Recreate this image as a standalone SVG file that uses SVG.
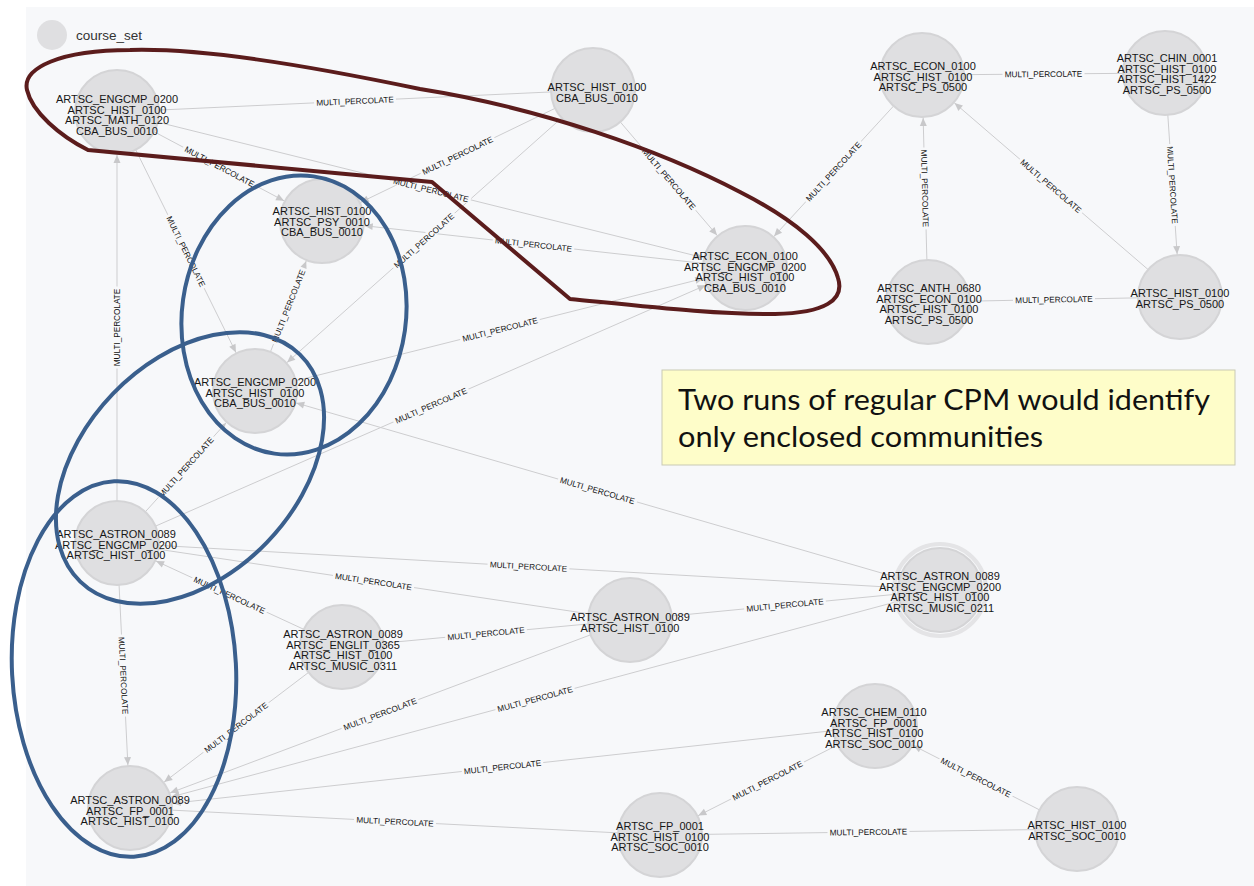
<svg xmlns="http://www.w3.org/2000/svg" width="1254" height="886" viewBox="0 0 1254 886">
  <style>
    .edge { stroke: #cdcdcf; stroke-width: 1; fill: none; }
    .lbl text { font-family: "Liberation Sans", Arial, sans-serif; font-size: 8.2px; fill: #111111; text-anchor: middle; }
    .lbl rect { fill: #f7f8fa; }
    .node circle.body { fill: #dfdfe1; stroke: #d4d4d6; stroke-width: 2; }
    .node text { font-family: "Liberation Sans", Arial, sans-serif; font-size: 11px; fill: #161616; text-anchor: middle; }
    .blue { fill: none; stroke: #3a5f8d; stroke-width: 4; }
    .red { fill: none; stroke: #5b1c1c; stroke-width: 4; stroke-linejoin: round; }
  </style>
  <defs>
    <!-- arrow tip sits 43px back from the line end, i.e. on the target node's rim -->
    <marker id="arr" markerUnits="userSpaceOnUse" markerWidth="60" markerHeight="10" refX="51" refY="0" orient="auto" overflow="visible">
      <path d="M0,-3.5 L8,0 L0,3.5 Z" fill="#c8c8ca"/>
    </marker>
  </defs>

  <!-- canvas -->
  <rect x="0" y="0" width="1254" height="886" fill="#ffffff"/>
  <rect x="26" y="7" width="1228" height="879" fill="#f7f8fa"/>

  <!-- legend -->
  <g id="legend">
    <circle cx="52" cy="35" r="15" fill="#dfdfe1"/>
    <text x="76" y="40" font-family="Liberation Sans, Arial, sans-serif" font-size="13.5" fill="#333">course_set</text>
  </g>

  <!-- relationships -->
  <g id="connectors">
    <g id="edge-lines">
      <line class="edge" x1="593" y1="90" x2="117" y2="112"/>
      <line class="edge" x1="117" y1="112" x2="322" y2="221" marker-end="url(#arr)"/>
      <line class="edge" x1="593" y1="90" x2="322" y2="221" marker-end="url(#arr)"/>
      <line class="edge" x1="117" y1="112" x2="745" y2="268" marker-end="url(#arr)"/>
      <line class="edge" x1="117" y1="112" x2="255" y2="391" marker-end="url(#arr)"/>
      <line class="edge" x1="117" y1="543" x2="117" y2="112" marker-end="url(#arr)"/>
      <line class="edge" x1="255" y1="391" x2="322" y2="221" marker-end="url(#arr)"/>
      <line class="edge" x1="593" y1="90" x2="255" y2="391" marker-end="url(#arr)"/>
      <line class="edge" x1="745" y1="268" x2="322" y2="221" marker-end="url(#arr)"/>
      <line class="edge" x1="255" y1="391" x2="745" y2="268" marker-end="url(#arr)"/>
      <line class="edge" x1="117" y1="543" x2="745" y2="268" marker-end="url(#arr)"/>
      <line class="edge" x1="117" y1="543" x2="255" y2="391" marker-end="url(#arr)"/>
      <line class="edge" x1="940" y1="590" x2="255" y2="391" marker-end="url(#arr)"/>
      <line class="edge" x1="593" y1="90" x2="745" y2="268" marker-end="url(#arr)"/>
      <line class="edge" x1="922" y1="75" x2="745" y2="268" marker-end="url(#arr)"/>
      <line class="edge" x1="922" y1="75" x2="1165" y2="73"/>
      <line class="edge" x1="1165" y1="73" x2="1180" y2="297" marker-end="url(#arr)"/>
      <line class="edge" x1="928" y1="302" x2="922" y2="75" marker-end="url(#arr)"/>
      <line class="edge" x1="1180" y1="297" x2="922" y2="75" marker-end="url(#arr)"/>
      <line class="edge" x1="928" y1="302" x2="1180" y2="297"/>
      <line class="edge" x1="117" y1="543" x2="130" y2="808" marker-end="url(#arr)"/>
      <line class="edge" x1="342" y1="647" x2="117" y2="543" marker-end="url(#arr)"/>
      <line class="edge" x1="117" y1="543" x2="940" y2="590"/>
      <line class="edge" x1="117" y1="543" x2="630" y2="620"/>
      <line class="edge" x1="342" y1="647" x2="630" y2="620"/>
      <line class="edge" x1="630" y1="620" x2="940" y2="590"/>
      <line class="edge" x1="342" y1="647" x2="130" y2="808" marker-end="url(#arr)"/>
      <line class="edge" x1="630" y1="620" x2="130" y2="808" marker-end="url(#arr)"/>
      <line class="edge" x1="940" y1="590" x2="130" y2="808" marker-end="url(#arr)"/>
      <line class="edge" x1="875" y1="726" x2="130" y2="808" marker-end="url(#arr)"/>
      <line class="edge" x1="130" y1="808" x2="660" y2="835"/>
      <line class="edge" x1="875" y1="726" x2="660" y2="835" marker-end="url(#arr)"/>
      <line class="edge" x1="1077" y1="829" x2="875" y2="726" marker-end="url(#arr)"/>
      <line class="edge" x1="660" y1="835" x2="1077" y2="829"/>
    </g>
    <g id="edge-labels" class="lbl">
      <g transform="translate(355,101) rotate(-2.6)"><rect x="-41" y="-5" width="82" height="9"/><text y="3">MULTI_PERCOLATE</text></g>
      <g transform="translate(219.5,166.5) rotate(28)"><rect x="-41" y="-5" width="82" height="9"/><text y="3">MULTI_PERCOLATE</text></g>
      <g transform="translate(457.5,155.5) rotate(-25.8)"><rect x="-41" y="-5" width="82" height="9"/><text y="3">MULTI_PERCOLATE</text></g>
      <g transform="translate(431,190) rotate(13.9)"><rect x="-41" y="-5" width="82" height="9"/><text y="3">MULTI_PERCOLATE</text></g>
      <g transform="translate(186,251.5) rotate(63.7)"><rect x="-41" y="-5" width="82" height="9"/><text y="3">MULTI_PERCOLATE</text></g>
      <g transform="translate(117,327.5) rotate(-90)"><rect x="-41" y="-5" width="82" height="9"/><text y="3">MULTI_PERCOLATE</text></g>
      <g transform="translate(288.5,306) rotate(-68.5)"><rect x="-41" y="-5" width="82" height="9"/><text y="3">MULTI_PERCOLATE</text></g>
      <g transform="translate(424,240.5) rotate(-41.7)"><rect x="-41" y="-5" width="82" height="9"/><text y="3">MULTI_PERCOLATE</text></g>
      <g transform="translate(533.5,244.5) rotate(6.3)"><rect x="-41" y="-5" width="82" height="9"/><text y="3">MULTI_PERCOLATE</text></g>
      <g transform="translate(500,329.5) rotate(-14.1)"><rect x="-41" y="-5" width="82" height="9"/><text y="3">MULTI_PERCOLATE</text></g>
      <g transform="translate(431,405.5) rotate(-23.6)"><rect x="-41" y="-5" width="82" height="9"/><text y="3">MULTI_PERCOLATE</text></g>
      <g transform="translate(186,467) rotate(-47.8)"><rect x="-41" y="-5" width="82" height="9"/><text y="3">MULTI_PERCOLATE</text></g>
      <g transform="translate(597.5,490.5) rotate(16.2)"><rect x="-41" y="-5" width="82" height="9"/><text y="3">MULTI_PERCOLATE</text></g>
      <g transform="translate(669,179) rotate(49.5)"><rect x="-41" y="-5" width="82" height="9"/><text y="3">MULTI_PERCOLATE</text></g>
      <g transform="translate(833.5,171.5) rotate(-47.5)"><rect x="-41" y="-5" width="82" height="9"/><text y="3">MULTI_PERCOLATE</text></g>
      <g transform="translate(1043.5,74) rotate(-0.5)"><rect x="-41" y="-5" width="82" height="9"/><text y="3">MULTI_PERCOLATE</text></g>
      <g transform="translate(1172.5,185) rotate(86.2)"><rect x="-41" y="-5" width="82" height="9"/><text y="3">MULTI_PERCOLATE</text></g>
      <g transform="translate(925,188.5) rotate(88.5)"><rect x="-41" y="-5" width="82" height="9"/><text y="3">MULTI_PERCOLATE</text></g>
      <g transform="translate(1051,186) rotate(40.7)"><rect x="-41" y="-5" width="82" height="9"/><text y="3">MULTI_PERCOLATE</text></g>
      <g transform="translate(1054,299.5) rotate(-1.1)"><rect x="-41" y="-5" width="82" height="9"/><text y="3">MULTI_PERCOLATE</text></g>
      <g transform="translate(123.5,675.5) rotate(87.2)"><rect x="-41" y="-5" width="82" height="9"/><text y="3">MULTI_PERCOLATE</text></g>
      <g transform="translate(229.5,595) rotate(24.8)"><rect x="-41" y="-5" width="82" height="9"/><text y="3">MULTI_PERCOLATE</text></g>
      <g transform="translate(528.5,566.5) rotate(3.3)"><rect x="-41" y="-5" width="82" height="9"/><text y="3">MULTI_PERCOLATE</text></g>
      <g transform="translate(373.5,581.5) rotate(8.5)"><rect x="-41" y="-5" width="82" height="9"/><text y="3">MULTI_PERCOLATE</text></g>
      <g transform="translate(486,633.5) rotate(-5.4)"><rect x="-41" y="-5" width="82" height="9"/><text y="3">MULTI_PERCOLATE</text></g>
      <g transform="translate(785,605) rotate(-5.5)"><rect x="-41" y="-5" width="82" height="9"/><text y="3">MULTI_PERCOLATE</text></g>
      <g transform="translate(236,727.5) rotate(-37.2)"><rect x="-41" y="-5" width="82" height="9"/><text y="3">MULTI_PERCOLATE</text></g>
      <g transform="translate(380,714) rotate(-20.6)"><rect x="-41" y="-5" width="82" height="9"/><text y="3">MULTI_PERCOLATE</text></g>
      <g transform="translate(535,699) rotate(-15.1)"><rect x="-41" y="-5" width="82" height="9"/><text y="3">MULTI_PERCOLATE</text></g>
      <g transform="translate(502.5,767) rotate(-6.3)"><rect x="-41" y="-5" width="82" height="9"/><text y="3">MULTI_PERCOLATE</text></g>
      <g transform="translate(395,821.5) rotate(2.9)"><rect x="-41" y="-5" width="82" height="9"/><text y="3">MULTI_PERCOLATE</text></g>
      <g transform="translate(767.5,780.5) rotate(-26.9)"><rect x="-41" y="-5" width="82" height="9"/><text y="3">MULTI_PERCOLATE</text></g>
      <g transform="translate(976,777.5) rotate(27)"><rect x="-41" y="-5" width="82" height="9"/><text y="3">MULTI_PERCOLATE</text></g>
      <g transform="translate(868.5,832) rotate(-0.8)"><rect x="-41" y="-5" width="82" height="9"/><text y="3">MULTI_PERCOLATE</text></g>
    </g>
  </g>

  <!-- course_set nodes -->
  <g id="nodes">
    <g id="n-engcmp-hist-math-bus" class="node">
      <circle class="body" cx="117" cy="112" r="42"/>
      <text x="117" y="103">ARTSC_ENGCMP_0200</text>
      <text x="117" y="113.5">ARTSC_HIST_0100</text>
      <text x="117" y="124">ARTSC_MATH_0120</text>
      <text x="117" y="134.5">CBA_BUS_0010</text>
    </g>
    <g id="n-hist-bus" class="node">
      <circle class="body" cx="593" cy="90" r="42"/>
      <text x="597" y="91">ARTSC_HIST_0100</text>
      <text x="597" y="101.5">CBA_BUS_0010</text>
    </g>
    <g id="n-hist-psy-bus" class="node">
      <circle class="body" cx="322" cy="221" r="42"/>
      <text x="322" y="215">ARTSC_HIST_0100</text>
      <text x="322" y="225.5">ARTSC_PSY_0010</text>
      <text x="322" y="236">CBA_BUS_0010</text>
    </g>
    <g id="n-econ-engcmp-hist-bus" class="node">
      <circle class="body" cx="745" cy="268" r="42"/>
      <text x="745" y="260">ARTSC_ECON_0100</text>
      <text x="745" y="270.5">ARTSC_ENGCMP_0200</text>
      <text x="745" y="281">ARTSC_HIST_0100</text>
      <text x="745" y="291.5">CBA_BUS_0010</text>
    </g>
    <g id="n-econ-hist-ps" class="node">
      <circle class="body" cx="922" cy="75" r="42"/>
      <text x="923" y="70">ARTSC_ECON_0100</text>
      <text x="923" y="80.5">ARTSC_HIST_0100</text>
      <text x="923" y="91">ARTSC_PS_0500</text>
    </g>
    <g id="n-chin-hist-hist-ps" class="node">
      <circle class="body" cx="1165" cy="73" r="42"/>
      <text x="1167" y="62">ARTSC_CHIN_0001</text>
      <text x="1167" y="72.5">ARTSC_HIST_0100</text>
      <text x="1167" y="83">ARTSC_HIST_1422</text>
      <text x="1167" y="93.5">ARTSC_PS_0500</text>
    </g>
    <g id="n-anth-econ-hist-ps" class="node">
      <circle class="body" cx="928" cy="302" r="42"/>
      <text x="929" y="292">ARTSC_ANTH_0680</text>
      <text x="929" y="302.5">ARTSC_ECON_0100</text>
      <text x="929" y="313">ARTSC_HIST_0100</text>
      <text x="929" y="323.5">ARTSC_PS_0500</text>
    </g>
    <g id="n-hist-ps" class="node">
      <circle class="body" cx="1180" cy="297" r="42"/>
      <text x="1180" y="297">ARTSC_HIST_0100</text>
      <text x="1180" y="307.5">ARTSC_PS_0500</text>
    </g>
    <g id="n-engcmp-hist-bus" class="node">
      <circle class="body" cx="255" cy="391" r="42"/>
      <text x="255" y="386">ARTSC_ENGCMP_0200</text>
      <text x="255" y="396.5">ARTSC_HIST_0100</text>
      <text x="255" y="407">CBA_BUS_0010</text>
    </g>
    <g id="n-astron-engcmp-hist" class="node">
      <circle class="body" cx="117" cy="543" r="42"/>
      <text x="116" y="538">ARTSC_ASTRON_0089</text>
      <text x="116" y="548.5">ARTSC_ENGCMP_0200</text>
      <text x="116" y="559">ARTSC_HIST_0100</text>
    </g>
    <g id="n-astron-englit-hist-music" class="node">
      <circle class="body" cx="342" cy="647" r="42"/>
      <text x="343" y="638">ARTSC_ASTRON_0089</text>
      <text x="343" y="648.5">ARTSC_ENGLIT_0365</text>
      <text x="343" y="659">ARTSC_HIST_0100</text>
      <text x="343" y="669.5">ARTSC_MUSIC_0311</text>
    </g>
    <g id="n-astron-hist" class="node">
      <circle class="body" cx="630" cy="620" r="42"/>
      <text x="630" y="621">ARTSC_ASTRON_0089</text>
      <text x="630" y="631.5">ARTSC_HIST_0100</text>
    </g>
    <g id="n-astron-engcmp-hist-music" class="node">
      <circle cx="940" cy="590" r="46" fill="none" stroke="#e4e4e6" stroke-width="4"/>
      <circle class="body" cx="940" cy="590" r="42"/>
      <text x="940" y="580">ARTSC_ASTRON_0089</text>
      <text x="940" y="590.5">ARTSC_ENGCMP_0200</text>
      <text x="940" y="601">ARTSC_HIST_0100</text>
      <text x="940" y="611.5">ARTSC_MUSIC_0211</text>
    </g>
    <g id="n-astron-fp-hist" class="node">
      <circle class="body" cx="130" cy="808" r="42"/>
      <text x="130" y="804">ARTSC_ASTRON_0089</text>
      <text x="130" y="814.5">ARTSC_FP_0001</text>
      <text x="130" y="825">ARTSC_HIST_0100</text>
    </g>
    <g id="n-chem-fp-hist-soc" class="node">
      <circle class="body" cx="875" cy="726" r="42"/>
      <text x="874" y="716">ARTSC_CHEM_0110</text>
      <text x="874" y="726.5">ARTSC_FP_0001</text>
      <text x="874" y="737">ARTSC_HIST_0100</text>
      <text x="874" y="747.5">ARTSC_SOC_0010</text>
    </g>
    <g id="n-fp-hist-soc" class="node">
      <circle class="body" cx="660" cy="835" r="42"/>
      <text x="660" y="830">ARTSC_FP_0001</text>
      <text x="660" y="840.5">ARTSC_HIST_0100</text>
      <text x="660" y="851">ARTSC_SOC_0010</text>
    </g>
    <g id="n-hist-soc" class="node">
      <circle class="body" cx="1077" cy="829" r="42"/>
      <text x="1077" y="829">ARTSC_HIST_0100</text>
      <text x="1077" y="839.5">ARTSC_SOC_0010</text>
    </g>
  </g>

  <!-- hand-drawn community outlines -->
  <g id="communities">
    <path id="community-red" class="red" d="M88,150 L432,182 L570,299 C650,307 720,315 775,314 C825,313 845,300 838,278 C830,250 795,220 740,192 C660,150 540,108 420,89 C300,64 200,48 130,50 C60,50 22,68 27,90 C32,112 60,136 88,150 Z"/>
    <ellipse id="community-blue-1" class="blue" cx="294" cy="315" rx="112" ry="140" transform="rotate(8 294 315)"/>
    <ellipse id="community-blue-2" class="blue" cx="190" cy="468" rx="158" ry="107" transform="rotate(-46 190 468)"/>
    <ellipse id="community-blue-3" class="blue" cx="124" cy="669" rx="112" ry="188" transform="rotate(-3 124 669)"/>
  </g>

  <!-- callout -->
  <g id="callout">
    <rect x="662" y="370" width="573" height="95" fill="#fefdc9" stroke="#c9c9b4" stroke-width="1"/>
    <text x="678" y="410" font-family="Lato, 'Open Sans', sans-serif" font-size="29" fill="#111" textLength="532" lengthAdjust="spacingAndGlyphs">Two runs of regular CPM would identify</text>
    <text x="678" y="447" font-family="Lato, 'Open Sans', sans-serif" font-size="29" fill="#111" textLength="365" lengthAdjust="spacingAndGlyphs">only enclosed communities</text>
  </g>
</svg>
